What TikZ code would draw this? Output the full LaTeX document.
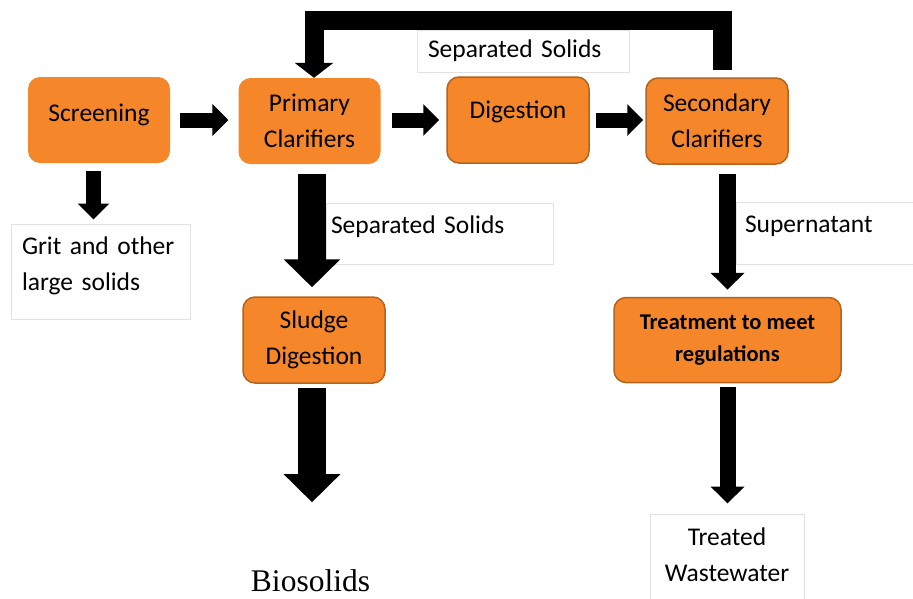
\documentclass[tikz,border=0pt]{standalone}
\usepackage{fontspec}
\setmainfont{Carlito}
\newfontfamily\bioserif{Liberation Serif}
\usetikzlibrary{arrows.meta}
\definecolor{procfill}{HTML}{F5872A}
\definecolor{procedge}{HTML}{B4631E}
\definecolor{notegray}{HTML}{E2E2E2}

\begin{document}
\begin{tikzpicture}[x=1pt, y=-1pt,
        txt/.style = {font=\fontsize{25.5}{36}\selectfont},
        proc/.style = {txt, rectangle, rounded corners=12pt, fill=procfill, minimum width=142pt, minimum height=86pt, align=center, inner sep=2pt},
        edged/.style = {draw=procedge, line width=1.5pt},
        note/.style = {txt, rectangle, draw=notegray, line width=1pt, align=left},
        lift/.style = {text depth=#1},
        small flow/.style = {line width=15pt, -{Triangle[length=16pt,width=31pt]}},
        mid flow/.style = {line width=17pt, -{Triangle[length=17pt,width=33pt]}},
        big flow/.style = {line width=28pt, -{Triangle[length=28pt,width=55pt]}},
        loop flow/.style = {line width=19pt, line join=miter, -{Triangle[length=15pt,width=38pt]}}
    ]
        \useasboundingbox (0,0) rectangle (913,598);
        % process boxes
        \node[proc, lift=15pt] (scr) at (99,120) {Screening};
        \node[proc] (prim) at (309.5,121) {Primary\\Clarifiers};
        \node[proc, edged, lift=20pt] (dig) at (518,120) {Digestion};
        \node[proc, edged] (sec) at (717,121) {Secondary\\Clarifiers};
        \node[proc, edged] (sludge) at (314,340) {Sludge\\Digestion};
        \node[proc, edged, minimum width=227pt, minimum height=85pt, font=\fontsize{22.5}{32}\selectfont\bfseries] (treat) at (727.5,340) {Treatment to meet\\regulations};
        % side notes
        \node[note, text width=190pt, inner xsep=11pt, minimum height=42pt] (topsep) at (523,51) {Separated Solids};
        \node[note, text width=157pt, inner xsep=11pt, minimum height=95pt, lift=51pt] (grit) at (100.5,271.5) {Grit and other\\large solids};
        \node[note, text width=217pt, inner xsep=5pt, minimum height=61pt, lift=17pt] (midsep) at (439.5,233.5) {Separated Solids};
        \node[note, text width=171pt, inner xsep=9pt, minimum height=62pt, lift=17pt] (super) at (830.5,233) {Supernatant};
        \node[note, text width=144pt, inner xsep=5pt, minimum height=98pt, align=center, lift=53pt] (treated) at (727,563) {Treated\\Wastewater};
        \node[font=\bioserif\fontsize{31.5}{36}\selectfont, inner sep=0pt] (bio) at (310.5,580.5) {Biosolids};
        \coordinate (bend) at (0,20.5);
        % flows
        \draw[small flow, shorten <=10pt, shorten >=10pt] (scr) -- (scr -| prim.west);
        \draw[small flow, shorten <=11.5pt, shorten >=7pt] (prim.east |- dig) -- (dig);
        \draw[small flow, shorten <=6pt, shorten >=2pt] (dig) -- (dig -| sec.west);
        \draw[small flow, shorten <=8pt, shorten >=4pt] ([xshift=-5.5pt]scr.south) -- ([xshift=-5.5pt]scr.south |- grit.north);
        \draw[big flow, shorten <=10pt, shorten >=9pt] ([xshift=2.5pt]prim.south) -- ([xshift=2.5pt]prim.south |- sludge.north);
        \draw[big flow, shorten <=4pt, shorten >=67pt] ([xshift=-2pt]sludge.south) -- ([xshift=-2pt]sludge.south |- bio.north);
        \draw[mid flow, shorten <=9pt, shorten >=7pt] ([xshift=10.5pt]sec.south) -- ([xshift=10.5pt]sec.south |- treat.north);
        \draw[mid flow, line width=16pt, shorten <=4pt, shorten >=10pt] (treat.south) -- (treat.south |- treated.north);
        \draw[loop flow, shorten <=7pt] ([xshift=5.5pt]sec.north) -- ([xshift=5.5pt]sec.north |- bend) -| ([xshift=4.5pt]prim.north);
    \end{tikzpicture}
\end{document}
